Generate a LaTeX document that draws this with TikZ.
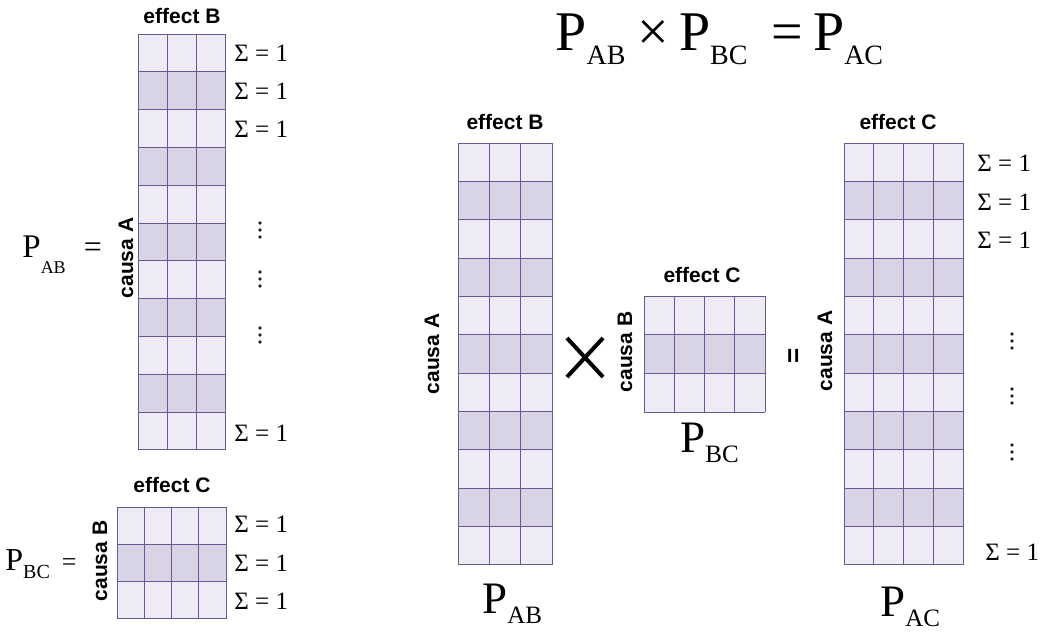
\documentclass[tikz,border=0pt]{standalone}
\usepackage{fontspec}
\setmainfont{Liberation Serif}
\setsansfont{Liberation Sans}
\usepackage{tikz}

\definecolor{cellLight}{RGB}{238,235,244}
\definecolor{cellDark}{RGB}{216,211,229}
\definecolor{gridPurple}{RGB}{104,88,150}

% P with a lowered subscript: size, subscript size, drop, subscript
\newcommand{\pmat}[4]{{\fontsize{#1}{#1}\selectfont P}\raisebox{-#3}{\fontsize{#2}{#2}\selectfont #4}}

% x0, y0, columns, rows, column width, row height (rows 2,4,... dark)
\newcommand{\probgrid}[6]{%
  \foreach \r in {1,...,#4}{%
    \ifodd\r\relax\def\cellcol{cellLight}\else\def\cellcol{cellDark}\fi
    \fill[fill=\cellcol] (#1,{#2+(\r-1)*#6}) rectangle ++({#3*#5},#6);
  }
  \foreach \c in {0,...,#3} \draw[gridline] ({#1+\c*#5},#2) -- ++(0,{#4*#6});
  \foreach \r in {0,...,#4} \draw[gridline] (#1,{#2+\r*#6}) -- ++({#3*#5},0);
}
% vertical ellipsis at x, y
\newcommand{\dotcol}[2]{\foreach \d in {-7,0,7} {\fill[black!85] (#1,{#2+\d}) circle (1.8);}}

\begin{document}
\begin{tikzpicture}[x=0.5pt,y=-0.5pt,
  gridline/.style={draw=gridPurple,line width=0.5pt},
  lab/.style={font=\sffamily\bfseries\fontsize{10.5}{12}\selectfont,inner sep=0pt},
  sumlab/.style={anchor=west,inner sep=0pt,font=\fontsize{12.5}{13}\selectfont},
  pname/.style={anchor=base west,inner sep=0pt}]
\useasboundingbox (0,0) rectangle (1047,633);

% left: P_AB
\probgrid{138}{34}{3}{11}{29.33}{37.8}
\node[lab] (effBl) at (182,16) {effect B};
\node[lab,rotate=90] (causaAl) at (126,258) {causa A};
\node[pname] (labAB) at (22,257) {\pmat{16.5}{9}{8pt}{AB}\hspace{9pt}{\fontsize{16}{16}\selectfont =}};
\foreach \y/\nm in {53/a, 91/b, 129/c, 433/d}
  \node[sumlab] (sumAB\nm) at (234,\y) {Σ = 1};
\foreach \y in {230, 279, 335} {\dotcol{260}{\y}}

% left: P_BC
\probgrid{117}{507}{4}{3}{27.25}{37.3}
\node[lab] (effCl) at (172,485) {effect C};
\node[lab,rotate=90] (causaBl) at (100,561) {causa B};
\node[pname] (labBC) at (5,570) {\pmat{16}{10}{4pt}{BC}\hspace{6pt}{\fontsize{13}{13}\selectfont =}};
\foreach \y/\nm in {524/a, 563/b, 601/c}
  \node[sumlab] (sumBC\nm) at (234,\y) {Σ = 1};

% title
\node[pname] (eq) at (555,50) {\pmat{28}{14}{7pt}{AB}\hspace{6pt}{\fontsize{28}{28}\selectfont ×}\hspace{5pt}\pmat{28}{14}{7pt}{BC}\hspace{12pt}{\fontsize{28}{28}\selectfont =}\hspace{5pt}\pmat{28}{14}{7pt}{AC}};

% right: P_AB x P_BC = P_AC
\probgrid{458}{143}{3}{11}{31.33}{38.36}
\node[lab] (effBr) at (505,122) {effect B};
\node[lab,rotate=90] (causaAr) at (432,354) {causa A};
\node[pname] (nameAB) at (482,613) {\pmat{22.5}{12.5}{5pt}{AB}};

\draw[line width=2pt] (567,338) -- (603,377) (567,377) -- (603,338);

\probgrid{644}{296}{4}{3}{30.25}{38.67}
\node[lab] (effCm) at (702,275) {effect C};
\node[lab,rotate=90] (causaBm) at (625,352) {causa B};
\node[pname] (nameBC) at (680,452) {\pmat{22.5}{12.5}{5pt}{BC}};

\node[lab,rotate=90,font=\sffamily\bfseries\fontsize{13}{13}\selectfont] (eqsign) at (795,356) {=};

\probgrid{844}{143}{4}{11}{29.75}{38.36}
\node[lab] (effCr) at (898,122) {effect C};
\node[lab,rotate=90] (causaAr2) at (825,351) {causa A};
\node[pname] (nameAC) at (880,616) {\pmat{22.5}{12.5}{5pt}{AC}};
\foreach \y/\nm in {163/a, 202/b, 240/c}
  \node[sumlab] (sumAC\nm) at (977,\y) {Σ = 1};
\node[sumlab] (sumACd) at (985,552) {Σ = 1};
\foreach \y in {341, 396, 452} {\dotcol{1012}{\y}}
\end{tikzpicture}
\end{document}
